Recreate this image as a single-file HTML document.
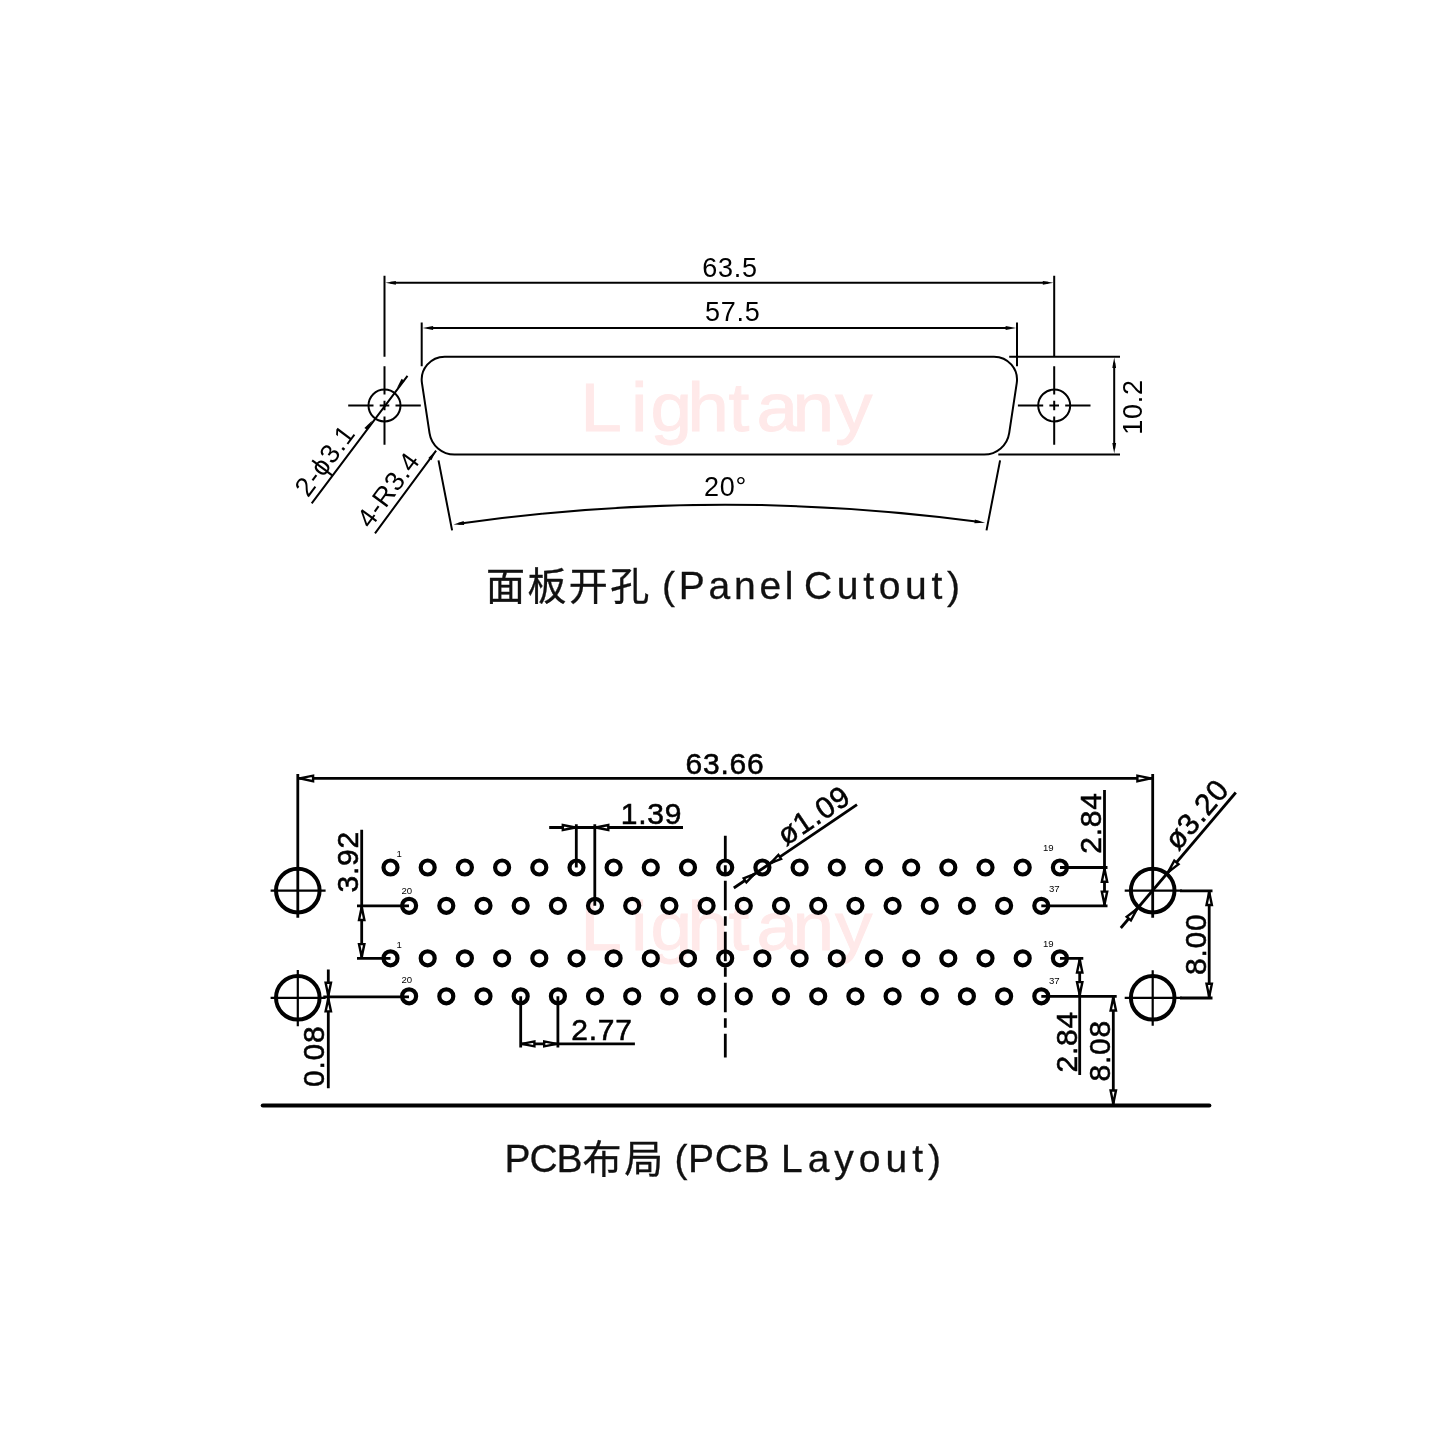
<!DOCTYPE html>
<html lang="zh"><head><meta charset="utf-8"><title>Panel Cutout / PCB Layout</title>
<style>
html,body{margin:0;padding:0;background:#fff;}
body{width:1440px;height:1440px;overflow:hidden;}
svg{display:block;}
text{font-family:"Liberation Sans","Noto Sans CJK SC",sans-serif;fill:#000;}
.t{stroke:#000;stroke-width:2;fill:none;stroke-linecap:butt;}
.b{stroke:#000;stroke-width:2.8;fill:none;stroke-linecap:butt;}
.thin{stroke:#000;stroke-width:2.2;fill:none;}
.pin{stroke:#000;stroke-width:4.2;fill:none;}
.hole{stroke:#000;stroke-width:4;fill:none;}
.ah{stroke:#000;stroke-width:2.4;fill:#fff;stroke-linejoin:miter;}
.af{fill:#000;stroke:none;}
.wm{fill:#ffe9e9;stroke:#ffe9e9;stroke-width:0.9;vector-effect:non-scaling-stroke;font-size:68px;}
.d1{font-size:27px;letter-spacing:0.7px;}
.d2{font-size:30px;letter-spacing:0.8px;stroke:#000;stroke-width:0.55;}
.lab{font-size:9.6px;}
.ttl{font-size:39px;fill:#111;stroke:#111;stroke-width:0.3;}
</style></head><body>
<svg width="1440" height="1440" viewBox="0 0 1440 1440">
<rect width="1440" height="1440" fill="#fff"/>
<g opacity="0.999">

<text class="wm" transform="translate(0 431.2) scale(1.1 1)" x="527.5 573.6 591.4 624.8 662.3 687.7 720.5 759.2">Lightany</text>
<text class="wm" transform="translate(0 950.1) scale(1.1 1)" x="527.5 573.6 591.4 624.8 662.3 687.7 720.5 759.2">Lightany</text>
<path class="t" d="M444.70 356.7 H994.00 A23.0 23.0 0 0 1 1016.74 383.14 L1009.18 433.17 A25.2 25.2 0 0 1 984.26 454.6 H454.44 A25.2 25.2 0 0 1 429.52 433.17 L421.96 383.14 A23.0 23.0 0 0 1 444.70 356.7 Z"/>
<circle class="t" cx="384.5" cy="405.5" r="16"/>
<path class="t" d="M348.2 405.5H373.5 M379.7 405.5H389.3 M395.5 405.5H420.8"/>
<path class="t" d="M384.5 275.8V356.7 M384.5 366.3V394.5 M384.5 400.7V410.3 M384.5 416.5V444.7"/>
<circle class="t" cx="1054.2" cy="405.5" r="16"/>
<path class="t" d="M1017.9000000000001 405.5H1043.2 M1049.4 405.5H1059.0 M1065.2 405.5H1090.5"/>
<path class="t" d="M1054.2 275.8V356.7 M1054.2 366.3V394.5 M1054.2 400.7V410.3 M1054.2 416.5V444.7"/>
<path class="t" d="M390.5 282.8H1048.2"/>
<polygon class="af" points="385.4,282.8 395.9,280.9 395.9,284.7"/>
<polygon class="af" points="1053.3,282.8 1042.8,284.7 1042.8,280.9"/>
<text class="d1" x="730" y="276.7" text-anchor="middle">63.5</text>
<path class="t" d="M421.7 322.5V366.3 M1017 322.5V366.3 M427.7 328H1011"/>
<polygon class="af" points="422.6,328.0 433.1,326.1 433.1,329.9"/>
<polygon class="af" points="1016.1,328.0 1005.6,329.9 1005.6,326.1"/>
<text class="d1" x="732.8" y="320.7" text-anchor="middle">57.5</text>
<path class="t" d="M1009.2 356.7H1120 M998.3 454.5H1120 M1114.2 362.7V448.5"/>
<polygon class="af" points="1114.2,357.6 1116.1,368.1 1112.3,368.1"/>
<polygon class="af" points="1114.2,453.6 1112.3,443.1 1116.1,443.1"/>
<text class="d1" transform="translate(1141.5 407) rotate(-90)" text-anchor="middle">10.2</text>
<path class="t" d="M438.5 460.4L452.1 530.4 M1000.1 460.4L986.5 530.4"/>
<path class="t" d="M458.5 523.7A1900 1900 0 0 1 980.1 522.1"/>
<polygon class="af" points="453.5,524.4 463.7,521.1 464.2,524.9"/>
<polygon class="af" points="985.1,522.8 974.4,523.3 974.9,519.5"/>
<text class="d1" x="725.5" y="496.4" text-anchor="middle">20°</text>
<path class="t" d="M311.7 503.3L407.5 375.8 M375 533.3L436.1 450.6"/>
<polygon class="af" points="372.2,420.6 367.4,430.1 364.4,427.9"/>
<polygon class="af" points="396.8,388.3 401.6,378.8 404.6,381.0"/>
<polygon class="af" points="436.1,450.6 431.4,460.2 428.3,457.9"/>
<text class="d1" letter-spacing="0.3" transform="translate(308 498.3) rotate(-53.1)">2-ϕ3.1</text>
<text class="d1" transform="translate(370.3 529.4) rotate(-53.5)">4-R3.4</text>
<text class="ttl" x="486" y="600" letter-spacing="2.4">面板开孔</text>
<text class="ttl" x="662" y="599" textLength="131.5" lengthAdjust="spacing">(Panel</text>
<text class="ttl" x="804" y="599" textLength="156" lengthAdjust="spacing">Cutout)</text>
<circle class="pin" cx="390.5" cy="867.5" r="7"/>
<circle class="pin" cx="427.7" cy="867.5" r="7"/>
<circle class="pin" cx="464.9" cy="867.5" r="7"/>
<circle class="pin" cx="502.1" cy="867.5" r="7"/>
<circle class="pin" cx="539.3" cy="867.5" r="7"/>
<circle class="pin" cx="576.5" cy="867.5" r="7"/>
<circle class="pin" cx="613.6" cy="867.5" r="7"/>
<circle class="pin" cx="650.8" cy="867.5" r="7"/>
<circle class="pin" cx="688.0" cy="867.5" r="7"/>
<circle class="pin" cx="725.2" cy="867.5" r="7"/>
<circle class="pin" cx="762.4" cy="867.5" r="7"/>
<circle class="pin" cx="799.6" cy="867.5" r="7"/>
<circle class="pin" cx="836.8" cy="867.5" r="7"/>
<circle class="pin" cx="874.0" cy="867.5" r="7"/>
<circle class="pin" cx="911.2" cy="867.5" r="7"/>
<circle class="pin" cx="948.3" cy="867.5" r="7"/>
<circle class="pin" cx="985.5" cy="867.5" r="7"/>
<circle class="pin" cx="1022.7" cy="867.5" r="7"/>
<circle class="pin" cx="1059.9" cy="867.5" r="7"/>
<circle class="pin" cx="409.1" cy="905.8" r="7"/>
<circle class="pin" cx="446.3" cy="905.8" r="7"/>
<circle class="pin" cx="483.5" cy="905.8" r="7"/>
<circle class="pin" cx="520.7" cy="905.8" r="7"/>
<circle class="pin" cx="557.9" cy="905.8" r="7"/>
<circle class="pin" cx="595.0" cy="905.8" r="7"/>
<circle class="pin" cx="632.2" cy="905.8" r="7"/>
<circle class="pin" cx="669.4" cy="905.8" r="7"/>
<circle class="pin" cx="706.6" cy="905.8" r="7"/>
<circle class="pin" cx="743.8" cy="905.8" r="7"/>
<circle class="pin" cx="781.0" cy="905.8" r="7"/>
<circle class="pin" cx="818.2" cy="905.8" r="7"/>
<circle class="pin" cx="855.4" cy="905.8" r="7"/>
<circle class="pin" cx="892.6" cy="905.8" r="7"/>
<circle class="pin" cx="929.8" cy="905.8" r="7"/>
<circle class="pin" cx="966.9" cy="905.8" r="7"/>
<circle class="pin" cx="1004.1" cy="905.8" r="7"/>
<circle class="pin" cx="1041.3" cy="905.8" r="7"/>
<circle class="pin" cx="390.5" cy="958.3" r="7"/>
<circle class="pin" cx="427.7" cy="958.3" r="7"/>
<circle class="pin" cx="464.9" cy="958.3" r="7"/>
<circle class="pin" cx="502.1" cy="958.3" r="7"/>
<circle class="pin" cx="539.3" cy="958.3" r="7"/>
<circle class="pin" cx="576.5" cy="958.3" r="7"/>
<circle class="pin" cx="613.6" cy="958.3" r="7"/>
<circle class="pin" cx="650.8" cy="958.3" r="7"/>
<circle class="pin" cx="688.0" cy="958.3" r="7"/>
<circle class="pin" cx="725.2" cy="958.3" r="7"/>
<circle class="pin" cx="762.4" cy="958.3" r="7"/>
<circle class="pin" cx="799.6" cy="958.3" r="7"/>
<circle class="pin" cx="836.8" cy="958.3" r="7"/>
<circle class="pin" cx="874.0" cy="958.3" r="7"/>
<circle class="pin" cx="911.2" cy="958.3" r="7"/>
<circle class="pin" cx="948.3" cy="958.3" r="7"/>
<circle class="pin" cx="985.5" cy="958.3" r="7"/>
<circle class="pin" cx="1022.7" cy="958.3" r="7"/>
<circle class="pin" cx="1059.9" cy="958.3" r="7"/>
<circle class="pin" cx="409.1" cy="996.3" r="7"/>
<circle class="pin" cx="446.3" cy="996.3" r="7"/>
<circle class="pin" cx="483.5" cy="996.3" r="7"/>
<circle class="pin" cx="520.7" cy="996.3" r="7"/>
<circle class="pin" cx="557.9" cy="996.3" r="7"/>
<circle class="pin" cx="595.0" cy="996.3" r="7"/>
<circle class="pin" cx="632.2" cy="996.3" r="7"/>
<circle class="pin" cx="669.4" cy="996.3" r="7"/>
<circle class="pin" cx="706.6" cy="996.3" r="7"/>
<circle class="pin" cx="743.8" cy="996.3" r="7"/>
<circle class="pin" cx="781.0" cy="996.3" r="7"/>
<circle class="pin" cx="818.2" cy="996.3" r="7"/>
<circle class="pin" cx="855.4" cy="996.3" r="7"/>
<circle class="pin" cx="892.6" cy="996.3" r="7"/>
<circle class="pin" cx="929.8" cy="996.3" r="7"/>
<circle class="pin" cx="966.9" cy="996.3" r="7"/>
<circle class="pin" cx="1004.1" cy="996.3" r="7"/>
<circle class="pin" cx="1041.3" cy="996.3" r="7"/>
<path class="b" d="M725.3 835.8V1057.5" stroke-dasharray="29.5 6 9.5 6" stroke-dashoffset="6"/>
<circle class="hole" cx="297.8" cy="890.6" r="21.8"/>
<circle class="hole" cx="297.8" cy="997.8" r="21.8"/>
<circle class="hole" cx="1152.7" cy="890.6" r="21.8"/>
<circle class="hole" cx="1152.7" cy="997.8" r="21.8"/>
<path class="thin" d="M270.6 890.6H325.6 M270.6 997.8H325.6 M297.8 970V1026.3"/>
<path class="thin" d="M1124.7 890.6H1182 M1124.7 997.8H1182 M1152.7 970.3V1025.8"/>
<path class="b" d="M297.8 774V917.8 M1152.7 774V917.8"/>
<path class="b" d="M297.8 778.4H1152.7"/>
<polygon class="ah" points="299.6,778.4 313.1,775.6 313.1,781.2"/>
<polygon class="ah" points="1150.9,778.4 1137.4,781.2 1137.4,775.6"/>
<text class="d2" x="725" y="773.5" text-anchor="middle">63.66</text>
<path class="b" d="M361.7 829.7V958.3 M357 905.8H409 M357 958.3H390.5"/>
<polygon class="ah" points="361.7,907.0 364.4,920.0 359.0,920.0"/>
<polygon class="ah" points="361.7,957.1 359.0,944.1 364.4,944.1"/>
<text class="d2" transform="translate(358.3 861.7) rotate(-90)" text-anchor="middle">3.92</text>
<path class="b" d="M328.3 969.5V1088.3 M323.3 996.8H409"/>
<polygon class="ah" points="328.3,995.8 325.6,982.8 331.0,982.8"/>
<polygon class="ah" points="328.3,998.4 331.0,1011.4 325.6,1011.4"/>
<text class="d2" transform="translate(324.2 1056.3) rotate(-90)" text-anchor="middle">0.08</text>
<path class="b" d="M549.2 827.5H683 M576.3 824.2V867.5 M594.8 824.2V905.8"/>
<polygon class="ah" points="575.3,827.5 562.8,830.0 562.8,825.0"/>
<polygon class="ah" points="595.8,827.5 608.3,825.0 608.3,830.0"/>
<text class="d2" x="651.5" y="823.7" text-anchor="middle">1.39</text>
<path class="b" d="M520.7 996.3V1047.4 M557.9 996.3V1047.4 M520.7 1043.9H634.9"/>
<polygon class="ah" points="521.9,1043.9 534.4,1041.4 534.4,1046.4"/>
<polygon class="ah" points="556.7,1043.9 544.2,1046.4 544.2,1041.4"/>
<text class="d2" x="602" y="1039.6" text-anchor="middle">2.77</text>
<path class="b" d="M733.8 888L857 804.7"/>
<polygon class="ah" points="754.2,874.2 746.4,882.4 743.7,878.4"/>
<polygon class="ah" points="770.6,863.1 778.4,854.9 781.1,858.9"/>
<text class="d2" letter-spacing="1.2" transform="translate(786 846.5) rotate(-34.1)">ø1.09</text>
<path class="b" d="M1120.8 928L1235.8 792.5"/>
<polygon class="ah" points="1137.2,908.7 1130.9,920.4 1126.7,916.9"/>
<polygon class="ah" points="1168.0,872.4 1174.3,860.7 1178.5,864.2"/>
<text class="d2" transform="translate(1178.3 851.8) rotate(-49.7)">ø3.20</text>
<path class="b" d="M1104.5 790V905.8 M1060 867.5H1107.5 M1041.3 905.8H1107.5"/>
<polygon class="ah" points="1104.5,868.7 1107.2,881.7 1101.8,881.7"/>
<polygon class="ah" points="1104.5,904.6 1101.8,891.6 1107.2,891.6"/>
<text class="d2" transform="translate(1100.8 823) rotate(-90)" text-anchor="middle">2.84</text>
<path class="b" d="M1180 890.8H1212.5 M1180 998H1212.5 M1209.2 890.8V998"/>
<polygon class="ah" points="1209.2,892.0 1211.9,905.0 1206.5,905.0"/>
<polygon class="ah" points="1209.2,996.8 1206.5,983.8 1211.9,983.8"/>
<text class="d2" transform="translate(1205.8 944.2) rotate(-90)" text-anchor="middle">8.00</text>
<path class="b" d="M1060 958.3H1083.3 M1041.3 996.3H1116.7 M1079.7 958.3V1075"/>
<polygon class="ah" points="1079.7,959.5 1082.4,972.5 1077.0,972.5"/>
<polygon class="ah" points="1079.7,995.1 1077.0,982.1 1082.4,982.1"/>
<text class="d2" transform="translate(1076.7 1041.7) rotate(-90)" text-anchor="middle">2.84</text>
<path class="b" d="M1113.3 996.3V1105"/>
<polygon class="ah" points="1113.3,997.5 1116.0,1010.5 1110.6,1010.5"/>
<polygon class="ah" points="1113.3,1103.5 1110.6,1090.5 1116.0,1090.5"/>
<text class="d2" transform="translate(1110 1050.8) rotate(-90)" text-anchor="middle">8.08</text>
<path d="M262.8 1105.5H1209.3" stroke="#000" stroke-width="4.2" stroke-linecap="round" fill="none"/>
<text class="lab" x="396.5" y="856.7">1</text><text class="lab" x="401.5" y="893.7">20</text>
<text class="lab" x="396.5" y="947.5">1</text><text class="lab" x="401.5" y="983.4">20</text>
<text class="lab" x="1043" y="851.3">19</text><text class="lab" x="1049" y="891.8">37</text>
<text class="lab" x="1043" y="946.7">19</text><text class="lab" x="1049" y="984">37</text>
<text class="ttl" x="504.5" y="1171.5" textLength="78" lengthAdjust="spacing">PCB</text>
<text class="ttl" x="582.5" y="1172.5" letter-spacing="2.8">布局</text>
<text class="ttl" x="674.5" y="1171.5" textLength="95" lengthAdjust="spacing">(PCB</text>
<text class="ttl" x="781" y="1171.5" textLength="160" lengthAdjust="spacing">Layout)</text>
</g></svg></body></html>
